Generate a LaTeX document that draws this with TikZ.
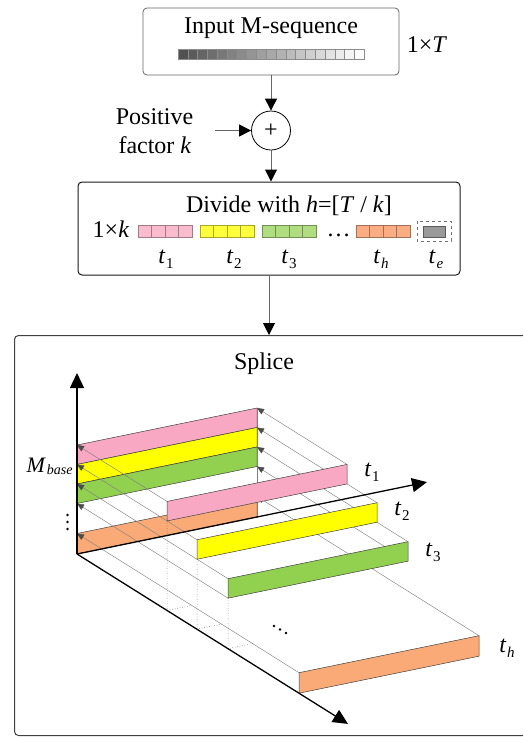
\documentclass[tikz,border=0pt]{standalone}
\usepackage{fontspec}
\setmainfont{Liberation Serif}
\usetikzlibrary{arrows.meta}
\definecolor{pinkD}{RGB}{249,188,206}
\definecolor{yellowD}{RGB}{255,255,60}
\definecolor{greenD}{RGB}{176,221,128}
\definecolor{orangeD}{RGB}{250,172,130}
\definecolor{pinkC}{RGB}{248,168,194}
\definecolor{yellowC}{RGB}{255,255,0}
\definecolor{greenC}{RGB}{146,208,80}
\definecolor{orangeC}{RGB}{250,170,118}
\newcommand\tlab[1]{\textit{t}\kern0.8pt\raisebox{-5pt}{\fontsize{15}{15}\selectfont #1}}
\begin{document}
\begin{tikzpicture}[x=1pt,y=-1pt,
  every node/.style={font=\fontsize{24}{28}\selectfont, inner sep=0pt},
  conn/.style={draw=black!60, line width=1pt, -{Triangle[length=12pt,width=12pt,color=black]}},
  bar/.style={draw=black!75, line width=0.5pt},
  proj/.style={draw=black!50, line width=0.45pt, -{Triangle[length=7pt,width=6pt,color=black!70]}},
  dotl/.style={draw=black!70, line width=0.5pt, dotted},
  axis/.style={draw=black, line width=1.3pt, -{Triangle[length=15pt,width=14pt]}},
  box/.style={rounded corners=4pt, inner sep=0pt}]
\useasboundingbox (0,0) rectangle (523,737);
\begin{scope}
\clip (0,0) rectangle (523,737);
% ---------- input box
\node[box, draw=black!60, line width=0.8pt, minimum width=256pt, minimum height=67pt] (inp) at (271,41.5) {};
\node[anchor=base] (inptxt) at (271,33) {Input M-sequence};
\foreach \i in {0,...,18} {
  \pgfmathsetmacro\g{68*(1-\i/18)}
  \draw[draw=black!45, line width=0.4pt, fill=black!\g] ({178+\i*9.8},49) rectangle ++(9.8,10);
}
\node[anchor=base] (dimT) at (427,52) {1×\textit{T}};
% ---------- adder
\node[draw, circle, line width=0.8pt, minimum size=39pt] (plus) at (271,130.5) {+};
\node[anchor=base] (pf1) at (154.5,124) {Positive};
\node[anchor=base] (pf2) at (155,153) {factor \textit{k}};
\coordinate (kin) at (215,130.5);
\draw[conn] (inp.south) -- (plus.north);
\draw[conn] (kin) -- (plus.west);
% ---------- divide box
\node[box, draw=black!90, line width=1pt, minimum width=382pt, minimum height=93pt] (div) at (269,228.5) {};
\draw[conn] (plus.south) -- (plus.south |- div.north);
\node[anchor=base] (divtxt) at (289,212) {Divide with \textit{h}=[\textit{T} / \textit{k}]};
\node[anchor=base] (onek) at (111,237) {1×\textit{k}};
\foreach \x/\c in {138/pinkD,200/yellowD,262/greenD,356/orangeD} {
  \foreach \j in {0,...,3}
    \draw[draw=\c!65!black, line width=0.5pt, fill=\c] ({\x+\j*13.5},225) rectangle ++(13.5,12);
}
\node[anchor=base] (ell) at (338.5,236) {…};
\draw[dashed, draw=black!55, line width=0.6pt] (417,221) rectangle (451,241);
\draw[fill=black!40, draw=black!65, line width=0.5pt] (423,226) rectangle (445,237);
\node[anchor=base] (lt1) at (166,263) {\tlab{1}};
\node[anchor=base] (lt2) at (234,263) {\tlab{2}};
\node[anchor=base] (lt3) at (289,263) {\tlab{3}};
\node[anchor=base] (lth) at (381,263) {\tlab{\textit{h}}};
\node[anchor=base] (lte) at (436,263) {\tlab{\textit{e}}};
% ---------- splice box
\node[box, draw=black!75, line width=1pt, minimum width=525pt, minimum height=400pt, anchor=north west] (spl) at (14,335) {};
\draw[conn] (div.south) -- (div.south |- spl.north);
\node[anchor=base] (spltxt) at (264,369) {Splice};
% ---------- 3D scene
\begin{scope}[shift={(77pt,-554pt)}, x={(1pt,0.2056pt)}, y={(0pt,1pt)}, z={(1pt,-0.627pt)}]
  \foreach \hb/\ht/\c in {89.5/109/pinkC, 70/89.5/yellowC, 50.5/70/greenC, 0/20.5/orangeC}
    \draw[bar, fill=\c] (0,\hb,0) -- (180,\hb,0) -- (180,\ht,0) -- (0,\ht,0) -- cycle;
  \draw[draw=black!50, line width=0.5pt] (180,0,0) -- (180,109,0);
  \foreach \h/\D in {109/90, 89.5/120, 70/151, 50.5/151, 20.5/222} {
    \draw[proj] (0,\h,\D) -- (0,\h,0);
    \draw[proj] (180,\h,\D) -- (180,\h,0);
  }
  \foreach \hb/\D in {89.5/90, 70/120, 50.5/151}
    \draw[dotl] (0,\hb,\D) -- (0,0,\D) -- (24.6,0,\D);
  \foreach \hb/\ht/\D/\c in {89.5/109/90/pinkC, 70/89.5/120/yellowC, 50.5/70/151/greenC, 0/20.5/222/orangeC}
    \draw[bar, fill=\c] (0,\hb,\D) -- (180,\hb,\D) -- (180,\ht,\D) -- (0,\ht,\D) -- cycle;
  \coordinate (O) at (0,0,0);
  \coordinate (vtip) at (0,181,0);
  \coordinate (ttip) at (350,0,0);
  \coordinate (dtip) at (0,0,271);
  \draw[axis] (O) -- (vtip);
  \draw[axis] (O) -- (ttip);
  \draw[axis] (O) -- (dtip);
\end{scope}
\node[anchor=base] (mb) at (49.5,472) {\fontsize{22}{24}\selectfont\textit{M}\kern1pt\raisebox{-2pt}{\fontsize{14}{14}\selectfont\textit{base}}};
\foreach \yy in {515,522,529} \fill (67.5,\yy) circle (1.3);
\foreach \xx/\yy in {274/626, 280/629.5, 286/633} \fill (\xx,\yy) circle (1.3);
\node[anchor=base] (f1) at (372,476) {\tlab{1}};
\node[anchor=base] (f2) at (402,515) {\tlab{2}};
\node[anchor=base] (f3) at (433,556) {\tlab{3}};
\node[anchor=base] (fh) at (507,652) {\tlab{\textit{h}}};
\end{scope}
\end{tikzpicture}
\end{document}
